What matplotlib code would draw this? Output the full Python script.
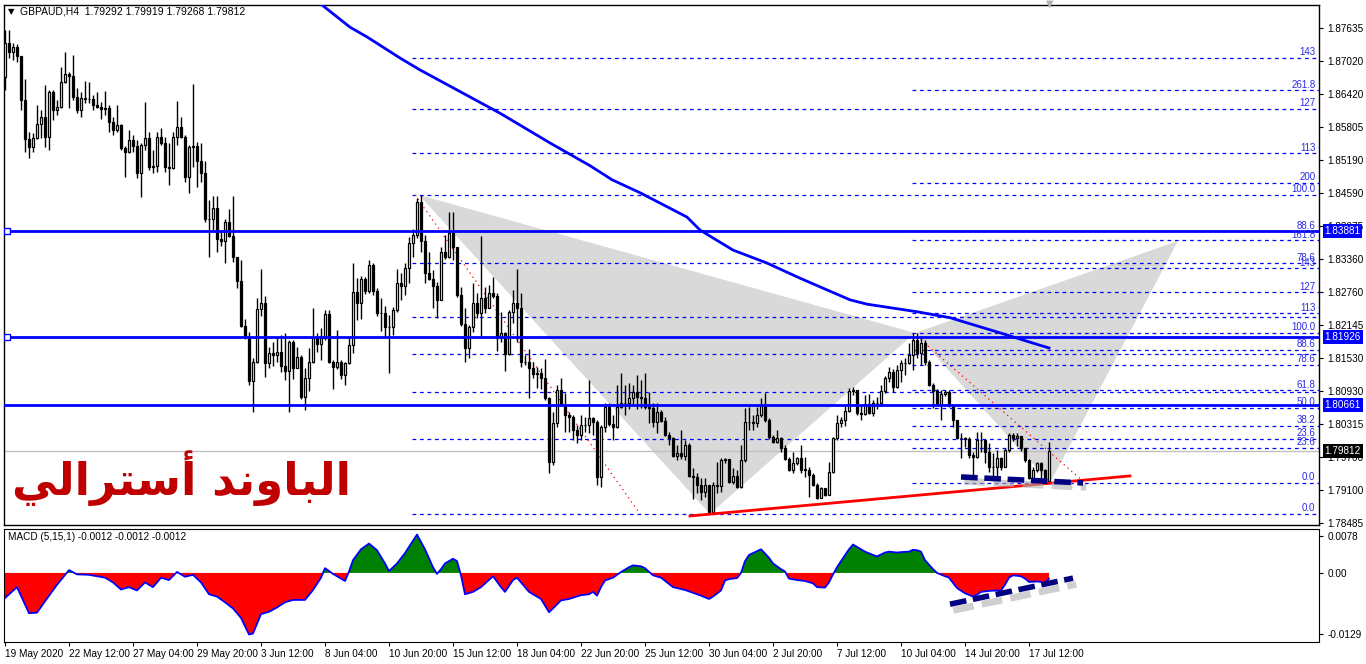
import numpy as np
import matplotlib
matplotlib.use("Agg")
import matplotlib.pyplot as plt
from matplotlib.patches import Polygon

plt.rcParams['font.family'] = ['Liberation Sans', 'DejaVu Sans']

# GBPAUD H4 candles, prices in pips above 1.7800
first_open = 873
close_p = [936, 919, 928, 912, 831, 758, 744, 760, 786, 799, 762, 845, 812, 818, 864, 879, 875, 836, 812, 834,
           832, 832, 821, 818, 814, 816, 790, 775, 784, 742, 734, 757, 745, 696, 747, 760, 707, 708, 762, 751,
           707, 705, 762, 781, 762, 688, 744, 745, 718, 696, 610, 610, 631, 574, 570, 605, 579, 540, 496, 413,
           392, 311, 346, 444, 455, 344, 363, 359, 365, 339, 330, 383, 335, 355, 281, 317, 346, 391, 379, 391,
           435, 346, 337, 346, 322, 344, 378, 476, 455, 500, 477, 526, 477, 437, 437, 411, 411, 442, 492, 487,
           520, 566, 581, 642, 570, 511, 500, 487, 461, 549, 540, 585, 559, 470, 416, 372, 411, 455, 437, 464,
           446, 474, 468, 391, 400, 361, 439, 455, 446, 346, 346, 335, 324, 326, 317, 280, 161, 233, 294, 267,
           248, 245, 221, 211, 230, 230, 243, 235, 134, 226, 263, 232, 226, 263, 270, 270, 280, 291, 281, 280,
           263, 261, 235, 254, 237, 211, 206, 172, 178, 172, 193, 135, 134, 119, 106, 119, 69, 119, 117, 165,
           167, 124, 135, 115, 165, 235, 235, 233, 248, 265, 239, 208, 198, 206, 187, 167, 147, 159, 169, 147,
           147, 137, 119, 95, 113, 100, 143, 206, 233, 239, 256, 293, 294, 252, 250, 269, 252, 270, 270, 293,
           317, 328, 300, 331, 344, 344, 359, 387, 363, 381, 346, 304, 293, 267, 287, 291, 267, 239, 206, 206,
           204, 174, 171, 202, 202, 180, 152, 152, 169, 152, 184, 211, 206, 209, 187, 165, 132, 147, 159, 147, 126, 181]
high_p = [960, 960, 936, 934, 912, 869, 771, 769, 821, 812, 858, 849, 849, 831, 891, 919, 882, 914, 853, 845,
          866, 864, 840, 845, 827, 847, 821, 799, 821, 786, 745, 775, 766, 757, 751, 827, 771, 738, 771, 779,
          762, 751, 771, 829, 799, 766, 747, 860, 753, 751, 718, 646, 653, 653, 590, 610, 629, 653, 540, 535,
          426, 402, 354, 464, 518, 468, 374, 383, 392, 396, 400, 387, 387, 374, 359, 335, 372, 446, 400, 409,
          442, 442, 350, 405, 350, 346, 392, 529, 501, 505, 503, 535, 529, 483, 464, 450, 433, 448, 518, 511,
          529, 577, 592, 649, 655, 581, 549, 516, 494, 559, 581, 623, 623, 559, 485, 446, 415, 492, 474, 579,
          485, 489, 503, 474, 439, 402, 442, 479, 518, 474, 359, 370, 346, 337, 335, 352, 281, 254, 304, 317,
          289, 254, 248, 230, 248, 245, 313, 245, 239, 230, 270, 270, 248, 304, 326, 304, 307, 304, 322, 313,
          326, 291, 270, 270, 257, 245, 217, 208, 193, 221, 202, 197, 150, 141, 132, 132, 119, 124, 161, 169,
          169, 161, 150, 147, 193, 261, 263, 248, 263, 280, 289, 243, 211, 221, 208, 193, 171, 180, 171, 193,
          171, 152, 141, 122, 115, 111, 161, 208, 248, 245, 265, 298, 300, 294, 265, 285, 287, 276, 281, 304,
          320, 337, 333, 341, 350, 354, 381, 400, 400, 391, 387, 350, 307, 296, 294, 294, 294, 267, 239, 215,
          208, 208, 180, 217, 217, 202, 197, 178, 184, 171, 187, 215, 215, 215, 206, 187, 167, 152, 161, 161, 148, 199]
low_p = [849, 908, 904, 901, 812, 734, 723, 734, 758, 760, 744, 738, 794, 803, 816, 862, 816, 831, 806, 799,
         825, 825, 812, 816, 795, 803, 771, 766, 771, 738, 688, 732, 734, 686, 651, 738, 701, 696, 697, 747,
         697, 673, 703, 747, 760, 679, 659, 707, 670, 679, 605, 540, 590, 549, 561, 529, 577, 531, 483, 411,
         389, 304, 254, 344, 431, 318, 335, 339, 346, 328, 313, 254, 315, 339, 278, 258, 293, 344, 365, 350,
         387, 344, 296, 333, 315, 304, 342, 363, 424, 426, 472, 474, 470, 431, 403, 391, 326, 396, 439, 461,
         470, 492, 540, 575, 549, 492, 498, 446, 428, 487, 537, 538, 535, 466, 413, 346, 354, 402, 428, 394,
         437, 446, 464, 367, 383, 330, 359, 418, 383, 337, 341, 280, 317, 298, 296, 276, 141, 156, 226, 265,
         217, 217, 202, 197, 202, 217, 215, 211, 119, 115, 217, 228, 202, 224, 261, 248, 259, 267, 259, 261,
         259, 233, 226, 215, 235, 209, 193, 171, 165, 167, 165, 134, 93, 104, 91, 97, 65, 67, 104, 106,
         159, 122, 121, 113, 113, 161, 221, 221, 226, 245, 235, 204, 197, 197, 180, 165, 145, 141, 156, 141,
         134, 97, 117, 93, 95, 98, 100, 141, 202, 226, 228, 254, 285, 248, 239, 248, 250, 246, 259, 265,
         289, 309, 291, 298, 309, 322, 342, 331, 354, 341, 341, 302, 261, 265, 239, 283, 263, 226, 204, 169,
         189, 169, 134, 169, 180, 159, 143, 134, 132, 147, 152, 180, 200, 191, 182, 161, 130, 130, 143, 130, 122, 127]

# moving average (bar index, price)
ma_bar = [79.25, 86.25, 90.5, 98.75, 103.75, 111.25, 123.75, 136.25, 146.25, 151.75, 158.75, 170.5,
          173.75, 182, 190.5, 198.75, 211.25, 215.5, 228, 236.25, 248.75, 257, 261]
ma_val = [1.8806, 1.8765, 1.8747, 1.8708, 1.8686, 1.8656, 1.8606, 1.8551, 1.8509, 1.8483, 1.8459, 1.8414,
          1.8390, 1.8353, 1.8329, 1.8301, 1.8261, 1.8253, 1.8239, 1.8228, 1.8200, 1.8181, 1.8172]

# MACD (5,15,1) read at bar indices
macd_bar = [0, 3, 6, 8, 10, 13, 16, 18, 21, 25, 27, 29, 31, 33, 35, 37, 39, 41, 43, 45, 47, 49, 51, 53, 55,
            57, 59, 61, 62, 64, 66, 68, 70, 72, 75, 77, 79, 80, 82, 84, 85, 86, 87, 89, 91, 93, 95, 96, 98,
            100, 103, 105, 107, 108, 109, 110, 112, 113, 114, 115, 117, 119, 122, 124, 125, 127, 128, 130,
            131, 133, 134, 136, 137, 139, 141, 144, 146, 147, 148, 149, 150, 152, 154, 156, 157, 159, 160,
            162, 164, 167, 170, 172, 174, 176, 177, 179, 180, 181, 183, 184, 185, 186, 188, 189, 191, 192,
            194, 195, 196, 198, 200, 202, 203, 205, 206, 207, 208, 209, 211, 212, 214, 215, 217, 218, 220,
            221, 223, 224, 226, 227, 228, 229, 230, 232, 233, 235, 236, 238, 240, 242, 243, 244, 246, 248,
            249, 250, 251, 252, 254, 255, 256, 258, 259, 260, 261]
macd_val = [-0.0053, -0.0030, -0.0085, -0.0084, -0.0060, -0.0025, 0.0006, -0.0003, -0.0004, -0.0010,
            -0.0020, -0.0035, -0.0030, -0.0037, -0.0020, -0.0030, -0.0010, -0.0015, 0.0002, -0.0008,
            -0.0004, -0.0020, -0.0045, -0.0050, -0.0062, -0.0075, -0.0095, -0.0130, -0.0128, -0.0087,
            -0.0082, -0.0073, -0.0062, -0.0057, -0.0057, -0.0036, -0.0010, 0.0010, -0.0002, -0.0012,
            -0.0017, 0.0003, 0.0027, 0.0050, 0.0062, 0.0048, 0.0020, 0.0004, 0.0020, 0.0042, 0.0081,
            0.0050, 0.0012, -0.0002, 0.0008, 0.0020, 0.0030, 0.0025, -0.0005, -0.0045, -0.0040, -0.0030,
            -0.0007, -0.0030, -0.0040, -0.0015, -0.0010, -0.0030, -0.0040, -0.0050, -0.0055, -0.0083,
            -0.0075, -0.0058, -0.0055, -0.0047, -0.0045, -0.0040, -0.0048, -0.0030, -0.0016, -0.0010,
            0.0002, 0.0012, 0.0016, 0.0014, 0.0010, -0.0005, -0.0010, -0.0030, -0.0036, -0.0042, -0.0048,
            -0.0055, -0.0050, -0.0037, -0.0016, -0.0013, -0.0011, 0.0000, 0.0025, 0.0038, 0.0046, 0.0050,
            0.0032, 0.0020, 0.0008, 0.0003, -0.0012, -0.0015, -0.0017, -0.0022, -0.0030, -0.0031, -0.0020,
            -0.0003, 0.0012, 0.0025, 0.0050, 0.0060, 0.0050, 0.0045, 0.0038, 0.0035, 0.0043, 0.0045,
            0.0043, 0.0044, 0.0045, 0.0049, 0.0048, 0.0045, 0.0027, 0.0008, 0.0000, -0.0007, -0.0010,
            -0.0032, -0.0043, -0.0050, -0.0046, -0.0040, -0.0038, -0.0037, -0.0037, -0.0025, -0.0010,
            -0.0005, -0.0007, -0.0012, -0.0019, -0.0018, -0.0019, -0.0022, -0.0012]

date_labels = ["19 May 2020", "22 May 12:00", "27 May 04:00", "29 May 20:00", "3 Jun 12:00", "8 Jun 04:00",
               "10 Jun 20:00", "15 Jun 12:00", "18 Jun 04:00", "22 Jun 20:00", "25 Jun 12:00", "30 Jun 04:00",
               "2 Jul 20:00", "7 Jul 12:00", "10 Jul 04:00", "14 Jul 20:00", "17 Jul 12:00"]
price_ticks = [1.87635, 1.87020, 1.86420, 1.85805, 1.85190, 1.84590, 1.83975, 1.83360, 1.82760,
               1.82145, 1.81530, 1.80930, 1.80315, 1.79700, 1.79100, 1.78485]
hlines = [1.83881, 1.81926, 1.80661]
last_price = 1.79812

fib1 = (101.75, 1.78652, 1.84549)
fib1_levels = [0, 23.6, 38.2, 50, 61.8, 78.6, 88.6, 100, 113, 127, 143]
fib1_hidden = [38.2, 50, 61.8]          # labels covered by the second grid
fib2 = (226.75, 1.79225, 1.81998)
fib2_levels = [0, 23.6, 38.2, 50, 61.8, 78.6, 88.6, 100, 113, 127, 143, 161.8, 200, 261.8]
fib_names = {0: "0.0", 23.6: "23.6", 38.2: "38.2", 50: "50.0", 61.8: "61.8", 78.6: "78.6", 88.6: "88.6",
             100: "100.0", 113: "113", 127: "127", 143: "143", 161.8: "161.8", 200: "200", 261.8: "261.8"}

# harmonic pattern points (bar, price)
tri1 = [(103.5, 1.84549), (176.25, 1.78652), (227.5, 1.81998)]
tri2 = [(227.5, 1.81998), (261.25, 1.79225), (293.25, 1.83698)]
fib_trend1 = [(102.5, 1.84549), (158.75, 1.78652)]
fib_trend2 = [(227, 1.81998), (270, 1.79225)]
support = [(171.25, 1.78615), (281.25, 1.79355)]
navy_main = [(239, 1.79336), (269.5, 1.79225)]
navy_macd = [(236.25, -0.0066), (267, -0.0011)]

closes = 1.78 + np.array(close_p) / 1e4
highs = 1.78 + np.array(high_p) / 1e4
lows = 1.78 + np.array(low_p) / 1e4
opens = np.r_[1.78 + first_open / 1e4, closes[:-1]]
highs = np.maximum(highs, np.maximum(opens, closes))
lows = np.minimum(lows, np.minimum(opens, closes))
idx = np.arange(len(closes))

W, H = 1366, 664
fig = plt.figure(figsize=(W / 100, H / 100), dpi=100)
fig.patch.set_facecolor('white')
ax = fig.add_axes([4 / W, 1 - 525 / H, 1315 / W, 520 / H])
ax2 = fig.add_axes([4 / W, 1 - 642 / H, 1315 / W, 113 / H])

xlim = (-0.25, 328.5)
ax.set_xlim(*xlim)
ax.set_ylim(1.78448, 1.88060)

# pattern triangles
for tri in (tri1, tri2):
    ax.add_patch(Polygon(tri, closed=True, facecolor='#d9d9d9', edgecolor='none', zorder=1))

# fibonacci levels
blue = '#0000ff'
for (start, lo, hi), levels, hidden in ((fib1, fib1_levels, fib1_hidden), (fib2, fib2_levels, [])):
    for lv in levels:
        p = lo + (hi - lo) * lv / 100.0
        ax.plot([start, xlim[1]], [p, p], color=blue, lw=0.9, ls=(0, (3, 3)), zorder=2)
        if lv not in hidden:
            ax.text(327.6, p + 0.00012, fib_names[lv], ha='right', va='bottom', fontsize=7,
                    color='#2a2ae6', zorder=6)

for seg in (fib_trend1, fib_trend2):
    ax.plot(*zip(*seg), color='red', lw=0.9, ls=(0, (1, 3)), zorder=2)

ax.axhline(last_price, color='#c0c0c0', lw=1, zorder=2)

# candles
up = closes >= opens
body_lo = np.minimum(opens, closes)
body_h = np.maximum(np.abs(closes - opens), 0.00004)
ax.vlines(idx, lows, highs, color='black', lw=1, zorder=3)
ax.bar(idx[up], body_h[up], bottom=body_lo[up], width=0.5, color='white', edgecolor='black', lw=0.9, zorder=4)
ax.bar(idx[~up], body_h[~up], bottom=body_lo[~up], width=0.5, color='black', edgecolor='black', lw=0.9, zorder=4)

# horizontal levels and MA
for k, lvl in enumerate(hlines):
    ax.axhline(lvl, color=blue, lw=2, zorder=5)
    if k < 2:
        ax.plot(0.6, lvl, marker='s', ms=4, mfc='white', mec=blue, mew=1, zorder=6)
ax.plot(ma_bar, ma_val, color=blue, lw=2, zorder=5)

ax.plot(*zip(*support), color='red', lw=2, zorder=5)
sx, sy = zip(*navy_main)
ax.plot(np.array(sx) + 0.8, np.array(sy) - 0.0008, color='#b0b0b0', lw=5, ls=(0, (3, 1.2)), alpha=0.6, zorder=5)
ax.plot(sx, sy, color='#000080', lw=4, ls=(0, (3, 1.2)), zorder=6)

ax.yaxis.tick_right()
ax.set_yticks(price_ticks)
ax.set_yticklabels([f"{p:.5f}" for p in price_ticks], fontsize=7.2)
ax.tick_params(axis='y', length=3, pad=3, width=0.8)
ax.set_xticks([])
for s in ax.spines.values():
    s.set_linewidth(1)

def tag(a, y, txt, fc):
    a.annotate(txt, xy=(1.0, y), xycoords=('axes fraction', 'data'), xytext=(4, 0),
               textcoords='offset points', ha='left', va='center', fontsize=7.2, color='white',
               bbox=dict(boxstyle='square,pad=0.18', fc=fc, ec='none'), zorder=10,
               annotation_clip=False)

for lvl in hlines:
    tag(ax, lvl, f"{lvl:.5f}", blue)
tag(ax, last_price, f"{last_price:.5f}", 'black')

# MACD panel
mb = np.array(macd_bar, dtype=float)
mv = np.array(macd_val)
ax2.set_xlim(*xlim)
ax2.set_ylim(-0.01459, 0.00928)
ax2.fill_between(mb, 0, mv, where=mv < 0, interpolate=True, color='#ff0000', lw=0)
ax2.fill_between(mb, 0, mv, where=mv >= 0, interpolate=True, color='#008000', lw=0)
ax2.plot(mb, mv, color=blue, lw=1.3)
mx, my = zip(*navy_macd)
ax2.plot(np.array(mx) + 0.8, np.array(my) - 0.0013, color='#b0b0b0', lw=5, ls=(0, (3, 1.2)), alpha=0.6)
ax2.plot(mx, my, color='#000080', lw=4, ls=(0, (3, 1.2)))

ax2.yaxis.tick_right()
ax2.set_yticks([0.0078, 0.0, -0.0129])
ax2.set_yticklabels(["0.0078", "0.00", "-0.0129"], fontsize=7.2)
ax2.tick_params(axis='y', length=3, pad=3, width=0.8)
ax2.set_xticks(np.arange(len(date_labels)) * 16)
ax2.set_xticklabels(date_labels, fontsize=7.2, ha='left')
ax2.tick_params(axis='x', length=3, pad=2, width=0.8)

# header texts
fig.text(8 / W, 1 - 12 / H, "\u25bc", fontsize=6, family=['DejaVu Sans'], va='center')
fig.text(20 / W, 1 - 12 / H, "GBPAUD,H4  1.79292 1.79919 1.79268 1.79812", fontsize=7.5, va='center')
fig.text(8 / W, 1 - 537 / H, "MACD (5,15,1) -0.0012 -0.0012 -0.0012", fontsize=7.2, va='center')
fig.text(1050 / W, 1 - 4 / H, "\u25bc", fontsize=7, family=['DejaVu Sans'], color='#b0b0b0',
         ha='center', va='center')

# Arabic caption, shaped and ordered for left-to-right drawing
arabic = "\uFEF2\uFEDF\uFE8D\uFEAE\uFE98\uFEB3\uFE83 \uFEAA\uFEE7\uFEED\uFE8E\uFE92\uFEDF\uFE8D"
fig.text(181 / W, 1 - 478 / H, arabic, fontsize=32.5, family=['DejaVu Sans'], weight='bold',
         color='#c00000', ha='center', va='center')

fig.savefig("out.png", dpi=100, facecolor='white')
